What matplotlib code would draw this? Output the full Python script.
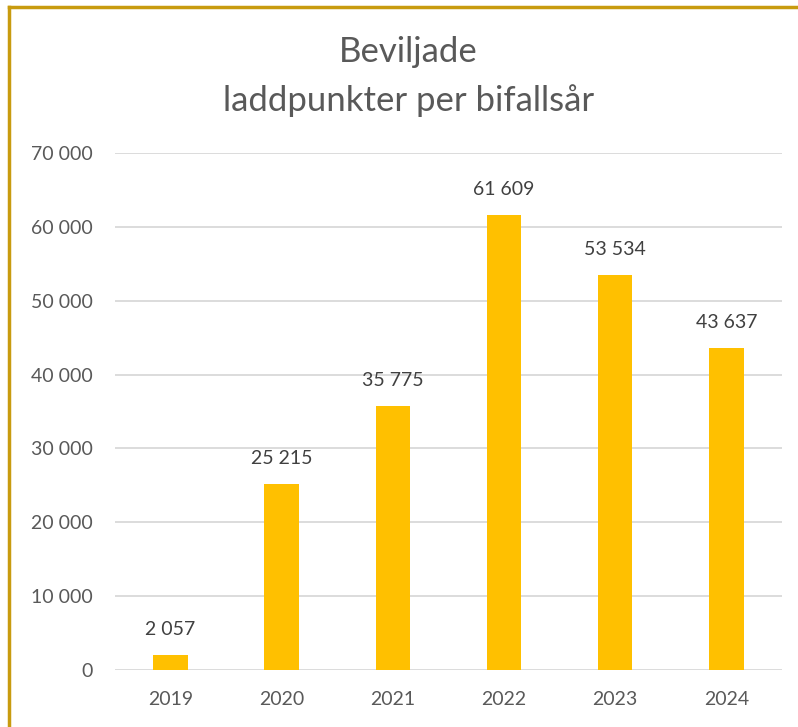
import matplotlib
matplotlib.use("Agg")
import matplotlib.pyplot as plt
from matplotlib.ticker import FuncFormatter

# data
years = ["2019", "2020", "2021", "2022", "2023", "2024"]
laddpunkter = [2057, 25215, 35775, 61609, 53534, 43637]
y_ticks = [0, 10000, 20000, 30000, 40000, 50000, 60000, 70000]


def sv_format(v, pos=None):
    # svensk tusentalsavgränsare (mellanslag)
    return f"{int(v):,}".replace(",", " ")


plt.rcParams["font.family"] = ["Lato", "DejaVu Sans"]

fig = plt.figure(figsize=(7.98, 7.27), dpi=100)
ax = fig.add_axes([0.144, 0.0784, 0.836, 0.7111])

x = range(len(years))
bars = ax.bar(x, laddpunkter, width=0.31, color="#FFC000", zorder=3)

for b, v in zip(bars, laddpunkter):
    ax.annotate(sv_format(v), (b.get_x() + b.get_width() / 2, v),
                xytext=(0, 12), textcoords="offset points",
                ha="center", va="bottom", fontsize=14, color="#404040")

ax.set_xlim(-0.5, len(years) - 0.5)
ax.set_ylim(0, 70000)
ax.set_yticks(y_ticks)
ax.yaxis.set_major_formatter(FuncFormatter(sv_format))
ax.set_xticks(list(x))
ax.set_xticklabels(years)

ax.grid(axis="y", color="#D9D9D9", linewidth=1.3, zorder=0)
for s in ax.spines.values():
    s.set_visible(False)
ax.tick_params(axis="both", length=0, labelsize=14, colors="#595959")
ax.tick_params(axis="y", pad=16)
ax.tick_params(axis="x", pad=15)

fig.text(0.512, 0.895, "Beviljade\nladdpunkter per bifallsår", ha="center", va="center",
         fontsize=25, color="#595959", linespacing=1.6)

# ram (övre och vänstra kanten)
fig.add_artist(plt.Line2D([0.0115, 1.0], [0.9897, 0.9897], color="#C89B0F", linewidth=2.5,
                          transform=fig.transFigure))
fig.add_artist(plt.Line2D([0.0115, 0.0115], [0.0, 0.9897], color="#C89B0F", linewidth=2.5,
                          transform=fig.transFigure))

fig.savefig("out.png", dpi=100)
